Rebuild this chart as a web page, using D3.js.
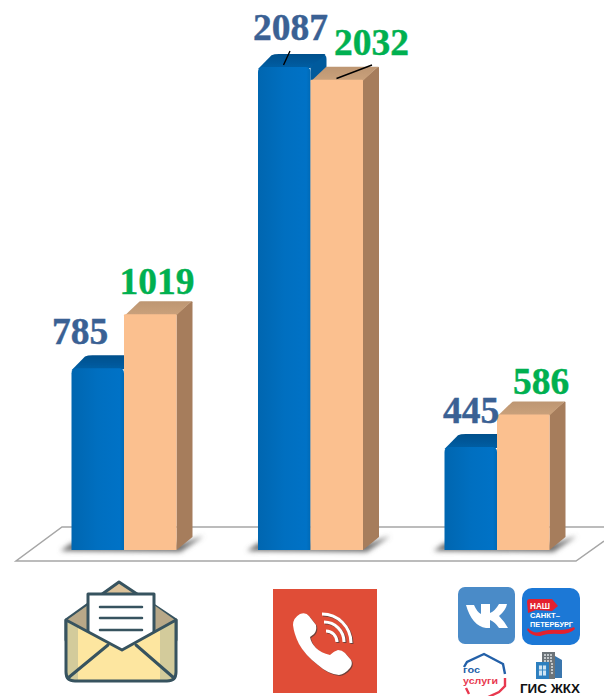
<!DOCTYPE html>
<html><head><meta charset="utf-8">
<script src="https://cdnjs.cloudflare.com/ajax/libs/d3/7.8.5/d3.min.js"></script>
<style>html,body{margin:0;padding:0;background:#fff;overflow:hidden}svg{display:block}</style>
</head><body><svg id="c" width="604" height="696"></svg>
<script>
const categories = ["Письма", "Телефон", "Интернет"];
const seriesA = [785, 2087, 445];
const seriesB = [1019, 2032, 586];

const svg = d3.select("#c");
const defs = svg.append("defs");
const W = 52.5, DX = 16, DY = 13;
const xGroup = d3.scaleBand().domain(categories).range([30.75, 590.25]);
const xSeries = d3.scaleBand().domain(["a", "b"]).range([xGroup.bandwidth() / 2 - W, xGroup.bandwidth() / 2 + W]);
const y = d3.scaleLinear().domain([0, 2087]).range([550, 67]);

function grad(id, stops, horizontal) {
  const g = defs.append("linearGradient").attr("id", id).attr("x1", 0).attr("y1", 0).attr("x2", horizontal ? 1 : 0).attr("y2", horizontal ? 0 : 1);
  stops.forEach(s => g.append("stop").attr("offset", s[0]).attr("stop-color", s[1]));
}
grad("blueF", [[0, "#0066b0"], [0.5, "#006fc0"], [0.92, "#0072c6"], [1, "#006ab6"]], true);
grad("blueT", [[0, "#00508c"], [1, "#005fa6"]]);
grad("oraT", [[0, "#bd9672"], [1, "#cba27c"]]);
defs.append("filter").attr("id", "blur").attr("x", "-30%").attr("y", "-100%").attr("width", "160%").attr("height", "300%")
  .append("feGaussianBlur").attr("stdDeviation", 2.4);
defs.append("filter").attr("id", "soft").attr("x", "-5%").attr("y", "-5%").attr("width", "110%").attr("height", "110%")
  .append("feGaussianBlur").attr("stdDeviation", 0.5);

// floor
svg.append("path").attr("d", "M16,561 L62,527 L604,527 L604,541 L576,561 Z").attr("fill", "#fff");
svg.append("path").attr("d", "M604,527 L62,527 L16,561 L576,561 L604,541")
  .attr("fill", "none").attr("stroke", "#a6a6a6").attr("stroke-width", 1.5);

// bars
const groups = svg.selectAll("g.grp").data(categories).join("g").attr("class", "grp")
  .attr("transform", d => `translate(${xGroup(d)},0)`);

// base shadow
groups.append("path").attr("filter", "url(#blur)").attr("fill", "#6f6f6f")
  .attr("d", () => {
    const l = xSeries("a"), r = xSeries("b") + W, b = y(0);
    return `M${l - 11},${b + 1} L${l},${b - 7} L${r + 6},${b - 7} L${r + 27},${b - 14} L${r + 4},${b + 2} Z`;
  });

function bar(key, values, front, top, side, rx) {
  groups.each(function (d, i) {
    const s = d3.select(this), x = xSeries(key), t = y(values[i]), b = y(0), r = x + W;
    s.append("path").attr("fill", side).attr("filter", "url(#soft)")
      .attr("d", `M${r},${t} L${r + DX - rx},${t - DY} Q${r + DX},${t - DY} ${r + DX},${t - DY + rx} L${r + DX},${b - DY} L${r},${b} Z`);
    s.append("path").attr("fill", top).attr("filter", "url(#soft)")
      .attr("d", `M${x},${t + 2} L${x + DX - rx / 2},${t - DY + rx / 4} Q${x + DX},${t - DY} ${x + DX + rx},${t - DY} L${r + DX - 1},${t - DY} L${r},${t + 1} Z`);
    s.append("path").attr("fill", front)
      .attr("d", `M${x},${b} L${x},${t + rx} Q${x},${t} ${x + rx},${t} L${r - rx},${t} Q${r},${t} ${r},${t + rx} L${r},${b} Z`);
  });
}
bar("a", seriesA, "url(#blueF)", "url(#blueT)", "#005a9c", 5);
bar("b", seriesB, "#fbc08f", "url(#oraT)", "#a67d5c", 1);

// value labels
const serif = "'Liberation Serif','Times New Roman',serif";
const labA = [[-44, -24], [-20, -27], [-26, -24]];
const labB = [[33, -20], [61, -25], [44, -20]];
function place(values, off, color) {
  groups.each(function (d, i) {
    d3.select(this).append("text").text(values[i])
      .attr("x", xGroup.bandwidth() / 2 + off[i][0]).attr("y", y(values[i]) + off[i][1])
      .attr("text-anchor", "middle").attr("font-family", serif).attr("font-weight", 700)
      .attr("font-size", 37.5).attr("fill", color).attr("stroke", color).attr("stroke-width", 0.4);
  });
}
place(seriesA, labA, "#3a6194");
place(seriesB, labB, "#00b050");

// leader lines
svg.append("path").attr("d", "M283.5,65 L290,51 M336.5,78.5 L372,65").attr("stroke", "#000").attr("stroke-width", 1.4).attr("fill", "none");

// ---- envelope icon ----
const e = svg.append("g").attr("stroke-linejoin", "round").attr("stroke-linecap", "round");
const ink = "#37535f";
e.append("path").attr("d", "M66,620 L119,582 L176,620 L176,640 L66,640 Z").attr("fill", "#dcc299").attr("stroke", ink).attr("stroke-width", 3);
e.append("path").attr("d", "M67,620 L88,605 L88,632 Z M175,620 L154,605 L154,632 Z").attr("fill", "#b8a888");
e.append("path").attr("d", "M88,594 L154,594 L154,640 L122,660 L88,640 Z").attr("fill", "#fff").attr("stroke", ink).attr("stroke-width", 3);
e.append("path").attr("d", "M66,620 L122,650 L176,620 L176,672 Q176,681 167,681 L75,681 Q66,681 66,672 Z").attr("fill", "#fde6a0");
e.append("path").attr("d", "M67,622 L78,628 L78,680 L75,680 Q67,680 67,672 Z M175,622 L160,630 L160,680 L167,680 Q175,680 175,672 Z").attr("fill", "#d3cb9b");
e.append("path").attr("d", "M66,620 L122,650 L176,620 L176,672 Q176,681 167,681 L75,681 Q66,681 66,672 Z").attr("fill", "none").attr("stroke", ink).attr("stroke-width", 3);
e.append("path").attr("d", "M68,678 L108,645 M174,678 L136,645").attr("fill", "none").attr("stroke", ink).attr("stroke-width", 3);
e.append("path").attr("d", "M100,607 H142 M100,618 H142 M100,630 H142").attr("stroke", ink).attr("stroke-width", 2.5);

// ---- phone icon ----
svg.append("rect").attr("x", 273).attr("y", 589).attr("width", 104).attr("height", 104).attr("fill", "#e04d37");
const hand = "M293,625 Q293,618 300,614 Q306,612 309,616 L316,625 Q317,631 314,634 L310,637 Q311,643 316,648 Q321,653 330,655 Q334,651 338,650 Q342,650 345,653 L351,660 Q353,664 350,668 Q345,674 339,675 Q328,674 318,665 Q305,655 299,644 Q294,634 293,625 Z";
const arcs = "M322,614 A29,29 0 0 1 351,643 M324,622 A20,20 0 0 1 344,642 M326,631 A11,11 0 0 1 337,642";
svg.append("path").attr("d", hand).attr("fill", "#3c3c3c").attr("transform", "translate(1,1)").attr("opacity", 0.7);
svg.append("path").attr("d", arcs).attr("fill", "none").attr("stroke", "#3c3c3c").attr("stroke-width", 3).attr("transform", "translate(1,1)").attr("opacity", 0.7);
svg.append("path").attr("d", hand).attr("fill", "#fff");
svg.append("path").attr("d", arcs).attr("fill", "none").attr("stroke", "#fff").attr("stroke-width", 3);

// ---- VK icon ----
svg.append("rect").attr("x", 458).attr("y", 587).attr("width", 57).attr("height", 57).attr("rx", 7).attr("fill", "#4a8bc8");
svg.append("path").attr("fill", "#fff")
  .attr("d", "M466,605 L474,605 Q477,612 481,614 L481,604 L490,604 L490,613 Q495,611 499,604 L507,604 Q506,610 499,616 Q504,621 508,628 L499,628 Q495,622 490,620 L490,628 L486,628 Q472,626 466,605 Z");

// ---- Nash SPb icon ----
svg.append("rect").attr("x", 522).attr("y", 588).attr("width", 58).attr("height", 57).attr("rx", 10).attr("fill", "#1c78d6");
svg.append("path").attr("d", "M527,602 Q527,599 530,599 L552,599 L558,606 L552,611 L536,610 L528,613 Z").attr("fill", "#e3212f");
const sans = "'Liberation Sans',Arial,sans-serif";
function t(str, x, yy, size, fill, anchor, len) {
  const n = svg.append("text").text(str).attr("x", x).attr("y", yy).attr("font-family", sans)
    .attr("font-size", size).attr("fill", fill).attr("font-weight", 700).attr("text-anchor", anchor);
  if (len) n.attr("textLength", len).attr("lengthAdjust", "spacingAndGlyphs");
}
t("НАШ", 530, 608.5, 9, "#fff", "start", 20);
t("САНКТ–", 530, 618, 8, "#fff", "start", 30);
t("ПЕТЕРБУРГ", 530, 627, 8, "#fff", "start", 43);
svg.append("path").attr("d", "M528,628 Q534,635 543,631 Q552,629 560,630 Q568,630 574,627 L575,629 Q570,634 560,634 Q548,633 540,636 Q531,636 527,630 Z").attr("fill", "#e3212f");

// ---- Gosuslugi icon ----
svg.append("path").attr("d", "M464,667 L467,662 L484,654 L503,664 L505,674").attr("fill", "none").attr("stroke", "#2360a8").attr("stroke-width", 2.4);
svg.append("path").attr("d", "M505,678 L505,686 L499,692 L484,699 M469,694 L466,688").attr("fill", "none").attr("stroke", "#e8394f").attr("stroke-width", 2.4);
t("гос", 463, 672.5, 9.5, "#2360a8", "start", 17);
t("услуги", 463, 684, 9.5, "#e8394f", "start", 35);

// ---- GIS ZhKKh icon ----
svg.append("rect").attr("x", 542).attr("y", 652).attr("width", 13).attr("height", 27).attr("fill", "#6d7479");
svg.append("path").attr("d", "M555,656 L562,660 L562,678 L555,678 Z").attr("fill", "#3a76ad");
svg.append("rect").attr("x", 536).attr("y", 662).attr("width", 13).attr("height", 17).attr("fill", "#2d7fbf");
svg.append("path").attr("d", "M538.5,665 h8 v11 h-8 Z M542.5,665 v11 M538.5,670 h8").attr("fill", "#cfe4f3").attr("stroke", "#2d7fbf").attr("stroke-width", 0.9);
svg.append("path").attr("d", "M544,655 h9 M544,658 h9 M544,661 h9 M551,664 h3 M551,667 h3 M551,670 h3 M551,673 h3").attr("stroke", "#dfe3e6").attr("stroke-width", 1.3).attr("stroke-dasharray", "2 1");
t("ГИС ЖКХ", 550, 693, 13, "#111", "middle", 60);
</script></body></html>
